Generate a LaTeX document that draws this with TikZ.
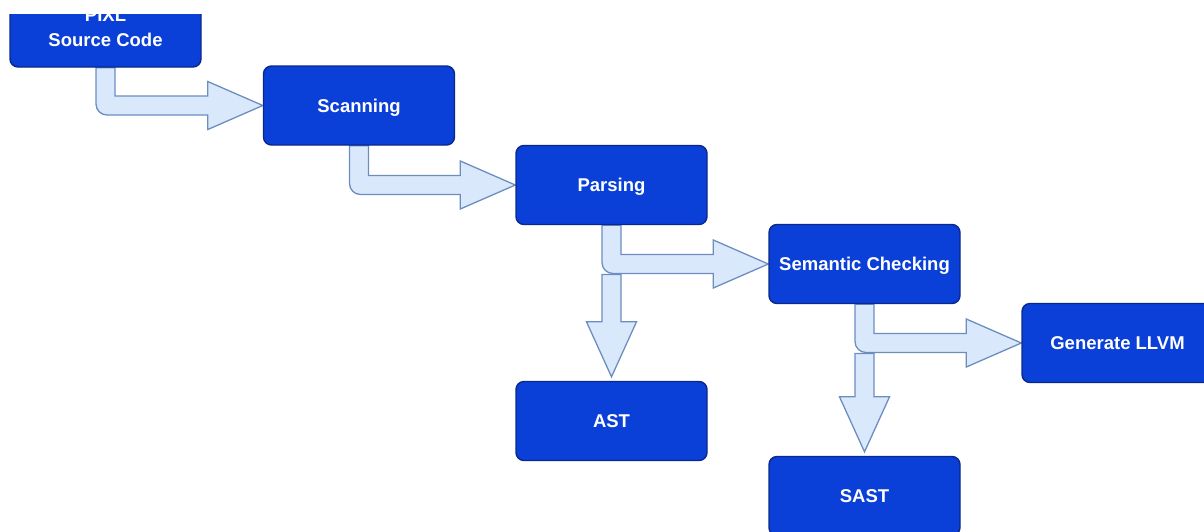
\documentclass[tikz,border=0pt]{standalone}
\usepackage{fontspec}
\setmainfont{Liberation Sans}
\usepackage{tikz}
\usetikzlibrary{positioning,calc,backgrounds}

\definecolor{stageblue}{RGB}{11,64,216}
\definecolor{stageedge}{RGB}{10,40,140}
\definecolor{flowfill}{RGB}{218,232,252}
\definecolor{flowedge}{RGB}{108,142,191}

\def\stemw{9.5pt}
\def\headw{24pt}
\def\headl{55pt}
\def\bend{11pt}

%% bent block arrow: down out of #1, then right into #2
\newcommand{\bentarrow}[2]{%
  \coordinate (knee) at (#1.south |- #2.west);
  \draw[flow] ([xshift=-\stemw]#1.south)
    -- ([xshift=-\stemw,yshift=-\stemw+\bend]knee)
    arc[start angle=180, end angle=270, radius=\bend]
    -- ([xshift=-\headl,yshift=-\stemw]#2.west)
    -- ([xshift=-\headl,yshift=-\headw]#2.west)
    -- (#2.west)
    -- ([xshift=-\headl,yshift=\headw]#2.west)
    -- ([xshift=-\headl,yshift=\stemw]#2.west)
    -- ([xshift=\stemw,yshift=\stemw]knee)
    -- ([xshift=\stemw]#1.south) -- cycle;}

%% straight block arrow: down from the knee into #1
\newcommand{\droparrow}[1]{%
  \draw[flow] ([xshift=-\stemw,yshift=-\stemw-1pt]knee)
    -- ([xshift=-\stemw,yshift=\headl+4pt]#1.north)
    -- ([xshift=-\headw-1pt,yshift=\headl+4pt]#1.north)
    -- ([yshift=4pt]#1.north)
    -- ([xshift=\headw+1pt,yshift=\headl+4pt]#1.north)
    -- ([xshift=\stemw,yshift=\headl+4pt]#1.north)
    -- ([xshift=\stemw,yshift=-\stemw-1pt]knee) -- cycle;}

\tikzset{
  stage/.style={draw=stageedge, line width=1.4pt, fill=stageblue, rounded corners=8pt,
    minimum width=191pt, minimum height=79pt, text=white, align=center,
    text depth=0pt, font=\fontsize{18.5pt}{25pt}\selectfont\bfseries},
  flow/.style={draw=flowedge, line width=1.3pt, fill=flowfill, line join=miter}
}

\begin{document}
\begin{tikzpicture}[x=1pt,y=1pt]
    \useasboundingbox (0,0) rectangle (1204,-531);
    \clip (0,-14) rectangle (1204,-531);

    %% compiler stages
    \node[stage] (source) at (105.5,-27.5) {PIXL\\Source Code};
    \node[stage] (scanning) at (359,-105.5) {Scanning};
    \node[stage] (parsing) at (611.5,-185) {Parsing};
    \node[stage] (semantic) at (864.5,-264) {Semantic Checking};
    \node[stage] (llvm) at (1117.5,-343) {Generate LLVM};
    \node[stage] (ast) at (611.5,-421) {AST};
    \node[stage] (sast) at (864.5,-496) {SAST};

    %% flow between stages
    \begin{scope}[on background layer]
        \bentarrow{source}{scanning}
        \bentarrow{scanning}{parsing}
        \bentarrow{parsing}{semantic}
        \droparrow{ast}
        \bentarrow{semantic}{llvm}
        \droparrow{sast}
    \end{scope}
\end{tikzpicture}
\end{document}
